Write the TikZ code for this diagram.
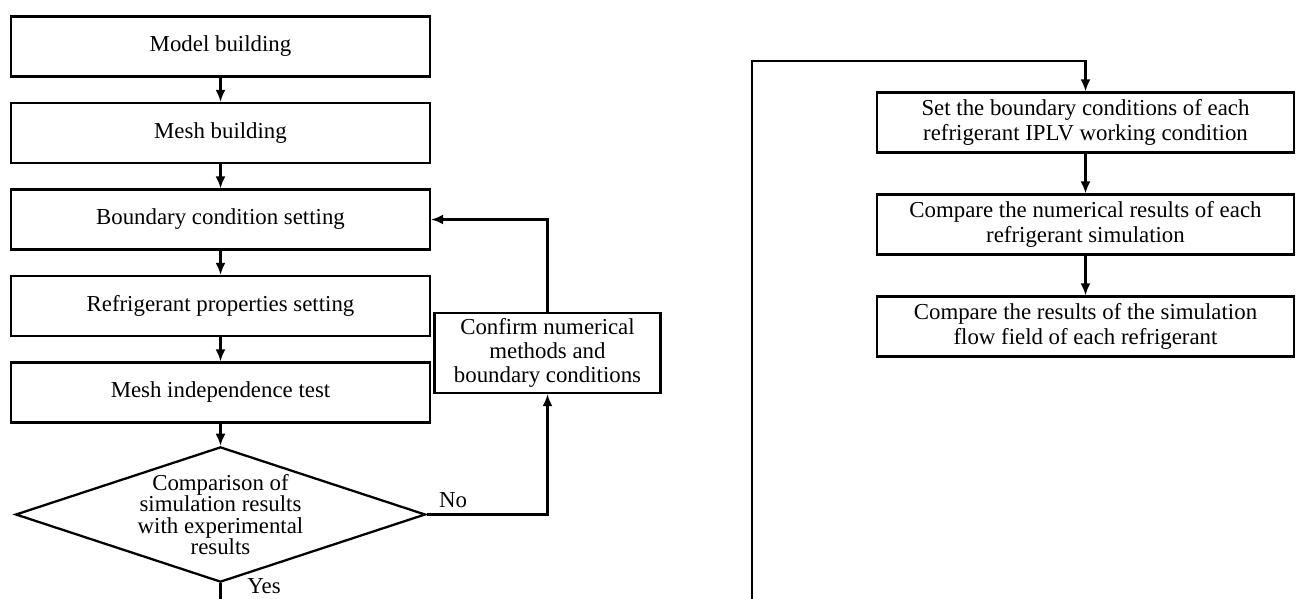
\documentclass[tikz,border=0pt]{standalone}
\usepackage{fontspec}
\setmainfont{Liberation Serif}
\usepackage{tikz}
\usetikzlibrary{positioning,shapes.geometric,arrows.meta}

\begin{document}
\begin{tikzpicture}[node distance=1.73cm,on grid,>={Latex[length=2.4mm,width=2mm]},
        every node/.style={font=\fontsize{13}{13.8}\selectfont}]
        \tikzstyle{stagebox}=[draw,line width=1.3pt,minimum width=8.38cm,minimum height=1.2cm,inner ysep=2pt,align=center]
        \tikzstyle{check}=[draw,diamond,line width=1.3pt,aspect=3.03,inner sep=0pt,minimum width=8.12cm,minimum height=2.68cm,align=center,font=\fontsize{13}{12.2}\selectfont]
        \tikzstyle{flow}=[->,line width=1.2pt]
        \useasboundingbox (0,0) rectangle (25.92,-11.98);
        % left column
        \node[stagebox] (model) at (4.41,-0.93) {Model building};
        \node[stagebox] (mesh) [below=of model] {Mesh building};
        \node[stagebox] (bound) [below=of mesh] {Boundary condition setting};
        \node[stagebox] (prop) [below=of bound] {Refrigerant properties setting};
        \node[stagebox] (indep) [below=of prop] {Mesh independence test};
        \node[check] (cmp) [below=2.44cm of indep] {Comparison of\\simulation results\\with experimental\\results};
        \node[stagebox,minimum width=4.52cm,minimum height=1.6cm] (conf) at (10.95,-7.06) {Confirm numerical\\methods and\\boundary conditions};
        % right column
        \node[stagebox,minimum width=8.34cm] (set) at (21.71,-2.45) {Set the boundary conditions of each\\refrigerant IPLV working condition};
        \node[stagebox,minimum width=8.34cm] (num) [below=2.04cm of set] {Compare the numerical results of each\\refrigerant simulation};
        \node[stagebox,minimum width=8.34cm] (field) [below=2.04cm of num] {Compare the results of the simulation\\flow field of each refrigerant};
        \coordinate (yesend) at (cmp.south |- 0,-11.98);
        \coordinate (loopend) at (15.04,-11.98);
        \coordinate[above=0.6cm of set.north] (looptop);
        \path[flow]
        (model) edge (mesh)
        (mesh) edge (bound)
        (bound) edge (prop)
        (prop) edge (indep)
        (indep) edge (cmp)
        (set) edge (num)
        (num) edge (field);
        \draw[flow] (cmp.east) -| node[pos=0.11,above] {No} (conf.south);
        \draw[flow] (conf.north) |- (bound.east);
        \draw[line width=1.2pt] (cmp.south) -- node[pos=0.15,right=0.4cm] {Yes} (yesend);
        \draw[flow] (loopend) |- (looptop) -- (set.north);
    \end{tikzpicture}
\end{document}
